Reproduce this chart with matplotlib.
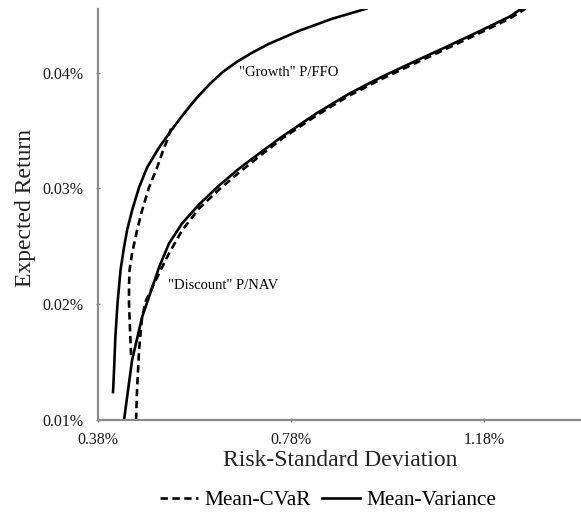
import matplotlib
matplotlib.use("Agg")
import matplotlib.pyplot as plt
from matplotlib.lines import Line2D

plt.rcParams['font.family'] = ['Liberation Serif', 'DejaVu Serif']

# "Growth" P/FFO frontier (x = risk %, y = expected return %)
growth_mv_x = [0.4111, 0.4132, 0.4159, 0.4204, 0.4266, 0.4328, 0.4401, 0.4505, 0.4650, 0.4816,
               0.5064, 0.5313, 0.5562, 0.5831, 0.6121, 0.6391, 0.6681, 0.6992, 0.7344, 0.7966,
               0.8650, 0.9354]
growth_mv_y = [0.01241, 0.01431, 0.01716, 0.02009, 0.02293, 0.02466, 0.02638, 0.02810, 0.03009, 0.03181,
               0.03353, 0.03500, 0.03638, 0.03776, 0.03905, 0.04009, 0.04095, 0.04173, 0.04250, 0.04362,
               0.04466, 0.04552]
growth_cvar_x = [0.4484, 0.4463, 0.4442, 0.4442, 0.4453, 0.4505, 0.4608, 0.4712, 0.4857, 0.5023,
                 0.5147, 0.5230, 0.5313]
growth_cvar_y = [0.01560, 0.01776, 0.02009, 0.02164, 0.02293, 0.02440, 0.02638, 0.02810, 0.03009, 0.03181,
                 0.03328, 0.03414, 0.03517]

# "Discount" P/NAV frontier
disc_mv_x = [0.4339, 0.4505, 0.4712, 0.5064, 0.5271, 0.5541, 0.5893, 0.6308, 0.6722, 0.7137,
             0.7613, 0.8318, 0.9002, 0.9686, 1.0391, 1.0930, 1.1634, 1.2318, 1.2567]
disc_mv_y = [0.01000, 0.01517, 0.01888, 0.02319, 0.02526, 0.02698, 0.02862, 0.03026, 0.03172, 0.03302,
             0.03448, 0.03647, 0.03819, 0.03966, 0.04104, 0.04207, 0.04345, 0.04483, 0.04552]
disc_cvar_x = [0.4588, 0.4608, 0.4650, 0.4712, 0.4795, 0.5126, 0.5271, 0.5541, 0.5893, 0.6308,
               0.6722, 0.7137, 0.7613, 0.8318, 0.9002, 0.9686, 1.0391, 1.0930, 1.1634, 1.2318, 1.2650]
disc_cvar_y = [0.01000, 0.01259, 0.01603, 0.01888, 0.02034, 0.02319, 0.02440, 0.02638, 0.02828, 0.02991,
               0.03138, 0.03276, 0.03431, 0.03629, 0.03802, 0.03948, 0.04086, 0.04190, 0.04328, 0.04466, 0.04552]

xticks = [0.38, 0.78, 1.18]
xlabels = ['0.38%', '0.78%', '1.18%']
yticks = [0.01, 0.02, 0.03, 0.04]
ylabels = ['0.01%', '0.02%', '0.03%', '0.04%']

fig = plt.figure(figsize=(5.81, 5.16), dpi=100)
ax = fig.add_axes([0.1687, 0.186, 0.8313, 0.7966])

dash = (0, (2.8, 1.7))
lw = 1.9
for xs, ys in [(growth_cvar_x, growth_cvar_y), (disc_cvar_x, disc_cvar_y)]:
    ax.plot(xs, ys, color='black', lw=lw, linestyle=dash, dash_joinstyle='round')
for xs, ys in [(growth_mv_x, growth_mv_y), (disc_mv_x, disc_mv_y)]:
    ax.plot(xs, ys, color='black', lw=lw, solid_joinstyle='round')

ax.set_xlim(0.38, 1.38)
ax.set_ylim(0.01, 0.0455)
ax.set_xticks(xticks)
ax.set_xticklabels(xlabels)
ax.set_yticks(yticks)
ax.set_yticklabels(ylabels)
ax.tick_params(labelsize=11.5, length=3, width=1, color='#808080', direction='inout',
               labelcolor='#1a1a1a')
ax.tick_params(axis='y', pad=9)
ax.tick_params(axis='x', pad=7)

for s in ['top', 'right']:
    ax.spines[s].set_visible(False)
for s in ['left', 'bottom']:
    ax.spines[s].set_color('#8c8c8c')
    ax.spines[s].set_linewidth(1.6)

fig.text(340 / 581, 1 - 460 / 516, 'Risk-Standard Deviation', fontsize=17,
         ha='center', va='center', color='#222222')
fig.text(26 / 581, 1 - 208 / 516, 'Expected Return', fontsize=17, rotation=90,
         ha='center', va='center', color='#222222')

ax.text(0.6725, 0.0400, '"Growth" P/FFO', fontsize=10.5, ha='left', va='center')
ax.text(0.5240, 0.02164, '"Discount" P/NAV', fontsize=10.5, ha='left', va='center')

handles = [Line2D([], [], color='black', lw=lw, linestyle=dash),
           Line2D([], [], color='black', lw=lw)]
fig.legend(handles, ['Mean-CVaR', 'Mean-Variance'], loc='center', bbox_to_anchor=(0.5645, 0.031),
           ncol=2, frameon=False, fontsize=15.3, handlelength=1.8, handletextpad=0.3,
           columnspacing=0.5)

fig.savefig('out.png', dpi=100)
